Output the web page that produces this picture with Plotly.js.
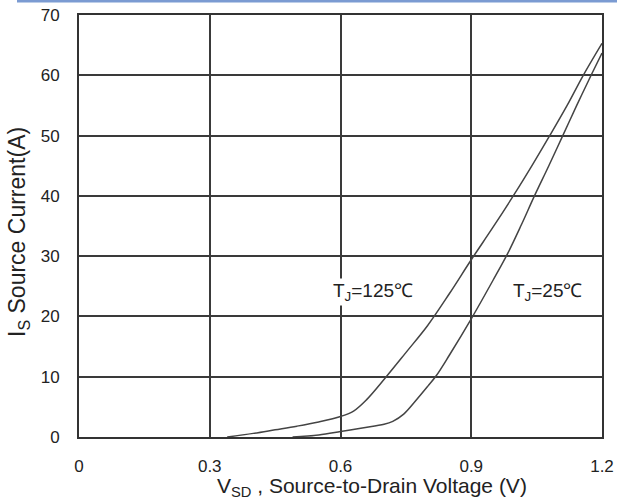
<!DOCTYPE html>
<html>
<head>
<meta charset="utf-8">
<script src="https://cdn.plot.ly/plotly-3.0.1.min.js"></script>
<style>html,body{margin:0;padding:0;background:#fff;}#chart{width:617px;height:501px;}</style>
</head>
<body>
<div id="chart"></div>
<script>
// Tj = 125 °C curve
const v125 = [0.34, 0.40, 0.45, 0.50, 0.55, 0.60, 0.63, 0.66, 0.705, 0.75, 0.80, 0.85, 0.90, 0.95, 1.00, 1.04, 1.081, 1.12, 1.157, 1.20];
const i125 = [0.0, 0.6, 1.2, 1.8, 2.5, 3.4, 4.3, 6.2, 10.0, 14.0, 18.5, 23.8, 29.4, 34.8, 40.4, 45.1, 50.1, 55.0, 60.0, 65.3];
// Tj = 25 °C curve
const v25 = [0.49, 0.55, 0.60, 0.65, 0.70, 0.72, 0.745, 0.77, 0.80, 0.82, 0.85, 0.90, 0.95, 0.984, 1.015, 1.045, 1.078, 1.11, 1.142, 1.175, 1.20];
const i25 = [0.0, 0.35, 0.9, 1.5, 2.1, 2.6, 3.8, 5.8, 8.4, 10.2, 13.6, 19.6, 26.0, 30.5, 35.2, 40.0, 45.0, 50.0, 55.0, 60.0, 63.7];
const xTicks = [0, 0.3, 0.6, 0.9, 1.2];
const xTickText = ["0", "0.3", "0.6", "0.9", "1.2"];
const yTicks = [0, 10, 20, 30, 40, 50, 60, 70];
const curveLabels = ["T<sub>J</sub>=125℃", "T<sub>J</sub>=25℃"];
const labelX = [0.674, 1.075];
const labelY = [24.1, 24.1];

const font = "Liberation Sans, Arial, sans-serif";
const lineStyle = {color: "#444", width: 1.5, shape: "spline", smoothing: 1};

const traces = [
  {x: v125, y: i125, mode: "lines", line: lineStyle, hoverinfo: "skip"},
  {x: v25, y: i25, mode: "lines", line: lineStyle, hoverinfo: "skip"}
];

const layout = {
  width: 617, height: 501,
  margin: {l: 79, r: 15, t: 15, b: 64},
  paper_bgcolor: "#fff", plot_bgcolor: "#fff",
  showlegend: false,
  font: {family: font, color: "#222", size: 16},
  xaxis: {
    range: [0, 1.2], tickvals: xTicks, ticktext: xTickText,
    showgrid: true, gridcolor: "#3a3a3a", gridwidth: 2,
    showline: true, mirror: true, linecolor: "#333", linewidth: 2,
    zeroline: false, ticks: "", ticklabelstandoff: 13,
    tickfont: {size: 17, family: font, color: "#222"}
  },
  yaxis: {
    range: [0, 70], tickvals: yTicks,
    showgrid: true, gridcolor: "#3a3a3a", gridwidth: 2,
    showline: true, mirror: true, linecolor: "#333", linewidth: 2,
    zeroline: false, ticks: "", ticklabelstandoff: 14,
    tickfont: {size: 17, family: font, color: "#222"}
  },
  annotations: [
    {text: curveLabels[0], x: labelX[0], y: labelY[0], xref: "x", yref: "y", showarrow: false,
     font: {size: 19, family: font, color: "#222"}, bgcolor: "#fff"},
    {text: curveLabels[1], x: labelX[1], y: labelY[1], xref: "x", yref: "y", showarrow: false,
     font: {size: 19, family: font, color: "#222"}, bgcolor: "#fff"},
    {text: "V<sub>SD</sub> , Source-to-Drain Voltage (V)", xref: "paper", yref: "paper",
     x: (372 - 79) / 523, y: (437 - 487) / 422, xanchor: "center", yanchor: "middle", showarrow: false,
     font: {size: 21, family: font, color: "#222"}},
    {text: "I<sub>S</sub> Source Current(A)", xref: "paper", yref: "paper", textangle: -90,
     x: (18 - 79) / 523, y: (437 - 232) / 422, xanchor: "center", yanchor: "middle", showarrow: false,
     font: {size: 23, family: font, color: "#222"}}
  ],
  shapes: [
    {type: "line", xref: "paper", yref: "paper",
     x0: (17 - 79) / 523, x1: (617 - 79) / 523, y0: (437 - 1) / 422, y1: (437 - 1) / 422,
     line: {color: "#7b9bd2", width: 3}}
  ]
};

Plotly.newPlot("chart", traces, layout, {staticPlot: true, displayModeBar: false});
</script>
</body>
</html>
